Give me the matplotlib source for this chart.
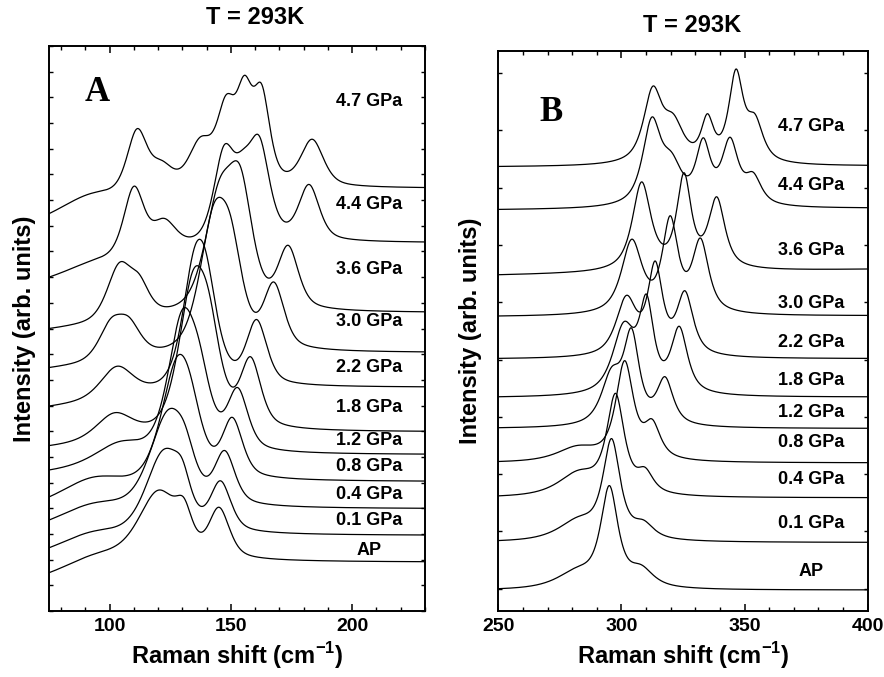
import numpy as np
import matplotlib
matplotlib.use("Agg")
import matplotlib.pyplot as plt
from matplotlib.ticker import MultipleLocator

plt.rcParams['font.family'] = ['Liberation Sans', 'DejaVu Sans']
plt.rcParams['font.weight'] = 'bold'
plt.rcParams['mathtext.default'] = 'bf'

# ---- panel A : low frequency region (75-230 cm-1) ----
labels = ['AP', '0.1 GPa', '0.4 GPa', '0.8 GPa', '1.2 GPa', '1.8 GPa',
          '2.2 GPa', '3.0 GPa', '3.6 GPa', '4.4 GPa', '4.7 GPa']

# curve level at the left / right end of the window (offset, arb. units)
a_left = [1.49, 2.46, 3.54, 4.44, 5.49, 6.44, 7.98, 9.48, 11.0, 13.0, 15.47]
a_right = [1.92, 2.96, 4.00, 5.06, 6.11, 7.00, 8.73, 10.09, 11.65, 14.37, 16.49]
# band positions, curve height read at each band, half widths
a_pos = [
    [95.0, 120.3, 130.7, 145.1],
    [93.0, 122.4, 130.0, 145.7],
    [93.0, 123.9, 131.0, 147.4],
    [93.0, 127.6, 133.0, 150.6],
    [104.0, 129.7, 137.0, 152.8],
    [102.0, 134.1, 141.0, 158.1],
    [103.0, 134.5, 139.5, 160.6],
    [100.4, 108.0, 142.7, 150.0, 167.7],
    [104.0, 112.3, 145.0, 154.0, 173.6],
    [93.0, 110.0, 122.4, 147.1, 155.0, 161.8, 182.2],
    [92.0, 111.3, 121.5, 137.4, 148.0, 155.6, 162.7, 183.5],
]
a_val = [
    [2.26, 4.71, 4.40, 4.04],
    [3.10, 6.30, 5.91, 5.07],
    [4.20, 7.82, 7.28, 6.25],
    [5.21, 9.88, 9.30, 7.54],
    [6.60, 11.70, 10.50, 8.70],
    [7.72, 13.20, 12.41, 9.90],
    [9.53, 14.00, 14.05, 11.35],
    [11.39, 11.45, 15.80, 15.34, 12.81],
    [13.57, 13.11, 16.75, 17.29, 14.24],
    [13.66, 16.54, 15.29, 18.13, 17.98, 18.48, 16.61],
    [16.25, 18.78, 17.55, 18.46, 20.1, 20.86, 20.51, 18.37],
]
a_hw = [
    [18, 10, 4, 5],
    [18, 9, 4, 5],
    [18, 9, 5, 5],
    [16, 8, 6, 5],
    [12, 7, 6, 5],
    [9, 7, 6, 5],
    [8, 6, 6, 5],
    [6, 6, 7, 6, 5],
    [6, 5, 7, 6, 5],
    [14, 5, 6, 5, 5, 5, 5],
    [16, 5, 6, 6, 4.5, 4, 4, 5.5],
]
a_label_y = [2.37, 3.54, 4.54, 5.61, 6.62, 7.91, 9.50, 11.26, 13.29, 15.84, 19.82]

# ---- panel B : 250-400 cm-1 ----
b_left = [0.0, 0.84, 1.62, 2.22, 2.81, 3.35, 4.02, 4.76, 5.48, 6.62, 7.37]
b_right = [-0.02, 0.81, 1.59, 2.20, 2.80, 3.35, 4.02, 4.77, 5.58, 6.65, 7.39]
b_pos = [
    [282.0, 295.1, 308.0],
    [282.5, 296.0, 309.0],
    [282.5, 297.6, 309.6],
    [282.0, 301.3, 312.5],
    [296.0, 304.1, 317.7],
    [301.0, 310.2, 323.5],
    [302.0, 313.7, 325.8],
    [304.2, 319.8, 332.1],
    [308.2, 325.4, 338.7],
    [312.3, 320.4, 333.2, 344.1, 353.5],
    [312.7, 321.1, 334.9, 346.5, 354.2],
]
b_val = [
    [0.38, 1.80, 0.42],
    [1.26, 2.62, 1.20],
    [2.07, 3.41, 2.12],
    [2.50, 3.98, 2.96],
    [3.87, 4.55, 3.70],
    [4.66, 5.14, 4.58],
    [5.12, 5.72, 5.20],
    [6.10, 6.51, 6.12],
    [7.10, 7.26, 6.84],
    [8.23, 7.62, 7.87, 7.88, 7.27],
    [8.77, 8.29, 8.29, 9.07, 8.29],
]
b_hw = [
    [10, 4.2, 6],
    [10, 4.2, 5],
    [10, 4.3, 4],
    [10, 4.3, 4],
    [5, 3.8, 4],
    [5.5, 3.5, 4],
    [5, 3.6, 4],
    [5, 3.8, 4],
    [4.5, 3.5, 4],
    [4.5, 5, 3.5, 4, 4],
    [4.5, 5, 3, 3.5, 4],
]
b_label_y = [0.30, 1.14, 1.90, 2.56, 3.08, 3.63, 4.29, 4.98, 5.91, 7.04, 8.06]


def band(x, c, g, eta):
    # pseudo-Voigt line shape, unit height, half width g
    u = ((x - c) / g) ** 2
    return eta / (1.0 + u) + (1 - eta) * np.exp(-np.log(2) * u)


def spectrum(x, x0, x1, xb, left, right, pos, val, hw, eta):
    # bands + sloping background, scaled so that the curve
    # goes through the heights
    pos = np.asarray(pos, float)
    hw = np.asarray(hw, float)
    k = len(pos)
    pts = np.concatenate([[x0], pos, [x1]])
    target = np.concatenate([[left], val, [right]])
    s = lambda t: np.clip((t - x0) / (xb - x0), 0, 1)
    M = np.zeros((k + 2, k + 2))
    for i, p in enumerate(pts):
        M[i, :k] = band(p, pos, hw, eta)
        M[i, k] = 1 - s(p)
        M[i, k + 1] = s(p)
    coef = np.linalg.solve(M, target)
    y = coef[k] * (1 - s(x)) + coef[k + 1] * s(x)
    for c, g, a in zip(pos, hw, coef[:k]):
        y = y + a * band(x, c, g, eta)
    return y


fig = plt.figure(figsize=(8.84, 6.77), dpi=100)
W, H = 884.0, 677.0
axA = fig.add_axes([49 / W, 1 - 611 / H, 376 / W, 565 / H])
axB = fig.add_axes([498.3 / W, 1 - 610.7 / H, 369.4 / W, 560 / H])

xa = np.linspace(75, 230, 900)
for i in range(len(labels)):
    ya = spectrum(xa, 75, 230, 150, a_left[i], a_right[i], a_pos[i], a_val[i], a_hw[i], 0.5)
    axA.plot(xa, ya, color='black', lw=0.9)
    axA.text(207, a_label_y[i], labels[i], ha='center', va='center', fontsize=13, fontweight='bold')

xb = np.linspace(250, 400, 900)
for i in range(len(labels)):
    yb = spectrum(xb, 250, 400, 400, b_left[i], b_right[i], b_pos[i], b_val[i], b_hw[i], 0.8)
    axB.plot(xb, yb, color='black', lw=0.9)
    axB.text(377, b_label_y[i], labels[i], ha='center', va='center', fontsize=13, fontweight='bold')

axA.set_xlim(75, 230)
axA.set_ylim(0, 22)
axA.xaxis.set_major_locator(MultipleLocator(50))
axA.xaxis.set_minor_locator(MultipleLocator(10))
axA.yaxis.set_major_locator(MultipleLocator(1))

axB.set_xlim(250, 400)
axB.set_ylim(-0.384, 9.39)
axB.xaxis.set_major_locator(MultipleLocator(50))
axB.xaxis.set_minor_locator(MultipleLocator(10))
axB.yaxis.set_major_locator(MultipleLocator(1))

for ax in (axA, axB):
    for sp in ax.spines.values():
        sp.set_linewidth(1.4)
    ax.tick_params(axis='x', which='major', direction='in', top=True, length=5, width=1.1,
                   labelsize=14, pad=5)
    ax.tick_params(axis='x', which='minor', direction='in', top=True, length=3, width=1.0)
    ax.tick_params(axis='y', which='major', direction='in', right=True, length=3, width=1.0,
                   labelleft=False)
    for t in ax.get_xticklabels():
        t.set_fontweight('bold')
    ax.set_xlabel('Raman shift (cm$^{\\mathregular{-1}}$)', fontsize=17, fontweight='bold',
                  labelpad=4)

axA.set_ylabel('Intensity (arb. units)', fontsize=17, fontweight='bold', labelpad=9)
axB.set_ylabel('Intensity (arb. units)', fontsize=17, fontweight='bold', labelpad=12)

axA.text(0.128, 0.917, 'A', transform=axA.transAxes, ha='center', va='center',
         fontsize=25, fontweight='bold', family='Liberation Serif')
axB.text(0.143, 0.889, 'B', transform=axB.transAxes, ha='center', va='center',
         fontsize=25, fontweight='bold', family='Liberation Serif')

fig.text(255 / W, 1 - 18 / H, 'T = 293K', ha='center', va='center', fontsize=17, fontweight='bold')
fig.text(692 / W, 1 - 25 / H, 'T = 293K', ha='center', va='center', fontsize=17, fontweight='bold')

fig.savefig('out.png', dpi=100)
